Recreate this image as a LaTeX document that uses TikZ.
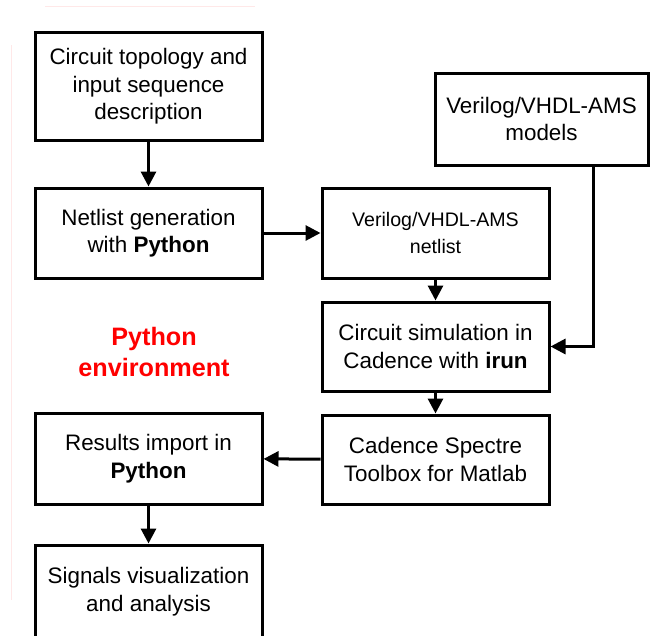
\documentclass[tikz,border=0pt]{standalone}
\usepackage{fontspec}
\setmainfont{Liberation Sans}
\usetikzlibrary{arrows.meta}
\tikzset{
  blk/.style={draw, line width=3pt, align=center, minimum width=227pt,
    font=\fontsize{22.4}{27.5}\selectfont, inner sep=0pt},
  flow/.style={line width=3pt, -{Triangle[length=15pt,width=15pt]}}
}
\begin{document}
\begin{tikzpicture}[x=1pt,y=-1pt]
    \useasboundingbox (0,0) rectangle (652,635);
    \clip (0,0) rectangle (652,635);
    % faint leftovers of the frame
    \draw[red!9, line width=1pt] (45,6) -- (255,6);
    \draw[red!9, line width=1pt] (11,45) -- (11,600);
    \node[blk, minimum height=108pt] (topo) at (148.5,86.5) {Circuit topology and\\input sequence\\description};
    \node[blk, minimum height=90pt] (netgen) at (148.5,233) {Netlist generation\\with \textbf{Python}};
    \node[blk, minimum height=90pt, font=\fontsize{19.6}{27.5}\selectfont] (netlist) at (435.5,233) {Verilog/VHDL-AMS\\netlist};
    \node[blk, minimum width=213pt, minimum height=92pt] (models) at (541.5,119) {Verilog/VHDL-AMS\\models};
    \node[blk, minimum height=89pt] (sim) at (435.5,346.5) {Circuit simulation in\\Cadence with \textbf{irun}};
    \node[blk, minimum height=89pt] (spectre) at (435.5,459.5) {Cadence Spectre\\Toolbox for Matlab};
    \node[blk, minimum height=91pt] (import) at (148.5,458.5) {Results import in\\\textbf{Python}};
    \node[blk, minimum height=93pt] (signals) at (148.5,591.5) {Signals visualization\\and analysis};
    \node[align=center, text=red, font=\fontsize{25.2}{31}\selectfont\bfseries] (env) at (154,352) {Python\\environment};

    \draw[flow] (topo) -- (netgen);
    \draw[flow] (netgen) -- (netlist);
    \draw[flow] (netlist) -- (sim);
    \draw[flow] ([xshift=52pt]models.south) |- (sim.east);
    \draw[flow] (sim) -- (spectre);
    \draw[flow] (spectre) -- (import);
    \draw[flow] (import) -- (signals);
\end{tikzpicture}
\end{document}
